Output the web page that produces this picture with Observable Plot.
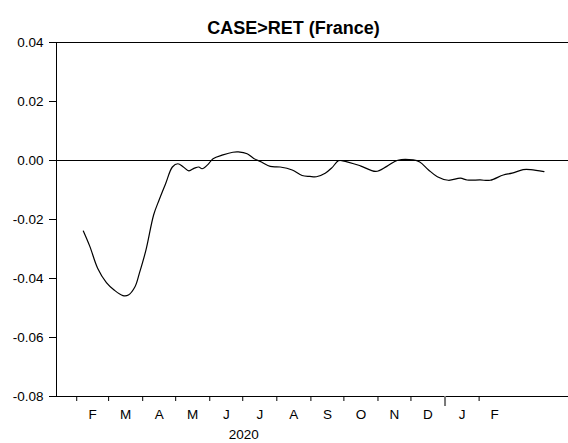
<!DOCTYPE html>
<html>
<head>
<meta charset="utf-8">
<script src="https://cdn.jsdelivr.net/npm/d3@7"></script>
<script src="https://cdn.jsdelivr.net/npm/@observablehq/plot@0.6"></script>
<style>
  html, body { margin: 0; padding: 0; background: white; }
</style>
</head>
<body>
<div id="chart"></div>
<script>
// ---- Data ----
const title = "CASE>RET (France)";
const dates = [
  "2020-02-07","2020-02-13","2020-02-20","2020-02-28","2020-03-06","2020-03-14",
  "2020-03-19","2020-03-25","2020-03-29","2020-04-04","2020-04-11","2020-04-16",
  "2020-04-22","2020-04-28","2020-05-03","2020-05-08","2020-05-13","2020-05-18",
  "2020-05-22","2020-05-25","2020-05-30","2020-06-04","2020-06-13","2020-06-22",
  "2020-06-27","2020-07-05","2020-07-11","2020-07-18","2020-07-26","2020-08-04",
  "2020-08-15","2020-08-24","2020-08-31","2020-09-06","2020-09-14","2020-09-20",
  "2020-09-26","2020-09-30","2020-10-16","2020-10-30","2020-11-09","2020-11-19",
  "2020-12-03","2020-12-09","2020-12-17","2020-12-25","2021-01-04","2021-01-15",
  "2021-01-21","2021-02-02","2021-02-11","2021-02-23","2021-03-03","2021-03-13",
  "2021-03-20","2021-04-01"
];
const values = [
  -0.0239,-0.0292,-0.0365,-0.0414,-0.0439,-0.0458,
  -0.0456,-0.0428,-0.0382,-0.0303,-0.0184,-0.0133,
  -0.0077,-0.0022,-0.0011,-0.0022,-0.0035,-0.0026,
  -0.0022,-0.0028,-0.0015,0.0006,0.0019,0.0028,
  0.0029,0.0023,0.0007,-0.0005,-0.0020,-0.0022,
  -0.0032,-0.0051,-0.0054,-0.0055,-0.0043,-0.0025,
  -0.0001,-0.0001,-0.0018,-0.0037,-0.0020,0.0001,
  0.0002,-0.0005,-0.0032,-0.0055,-0.0067,-0.0060,
  -0.0066,-0.0066,-0.0067,-0.0049,-0.0043,-0.0031,
  -0.0031,-0.0038
];
const yTicks = [-0.08, -0.06, -0.04, -0.02, 0.00, 0.02, 0.04];
const monthStarts = [
  "2020-02-01","2020-03-01","2020-04-01","2020-05-01","2020-06-01","2020-07-01",
  "2020-08-01","2020-09-01","2020-10-01","2020-11-01","2020-12-01","2021-01-01","2021-02-01"
];
const monthLabels = ["F","M","A","M","J","J","A","S","O","N","D","J","F"];
const yearBoundary = "2021-01-01";
const yearLabel = "2020";
const yearStart = "2020-01-01";

// ---- Build ----
const data = dates.map((d, i) => ({date: new Date(d), value: values[i]}));
const starts = monthStarts.map(d => new Date(d));
const mids = starts.map(d => new Date((+d + +d3.utcMonth.offset(d, 1)) / 2));
const labelOf = new Map(mids.map((d, i) => [+d, monthLabels[i]]));
const yearMid = new Date((+new Date(yearStart) + +new Date(yearBoundary)) / 2);

const DAY = 864e5;
const xDomain = [new Date(+new Date("2020-02-01") - 18.4 * DAY),
                 new Date(+new Date("2021-02-01") + 81.3 * DAY)];

const font = "'Liberation Sans', Arial, Helvetica, sans-serif";

const chart = Plot.plot({
  width: 568,
  height: 443,
  marginLeft: 56,
  marginRight: 0,
  marginTop: 42,
  marginBottom: 47,
  style: {fontFamily: font, fontSize: "13.5px", background: "white", color: "black"},
  x: {type: "utc", domain: xDomain},
  y: {domain: [-0.08, 0.04]},
  marks: [
    Plot.ruleY([0], {stroke: "black", strokeWidth: 1}),
    Plot.ruleY([0.04, -0.08], {stroke: "black", strokeWidth: 1}),
    Plot.ruleX([xDomain[0]], {stroke: "black", strokeWidth: 1}),
    Plot.line(data, {x: "date", y: "value", curve: "catmull-rom", stroke: "black", strokeWidth: 1.2}),
    Plot.axisY({ticks: yTicks, tickSize: 7, tickPadding: 6, tickFormat: d => d.toFixed(2), label: null, fontSize: 13.5}),
    Plot.axisX({ticks: starts, tickSize: 5, tickFormat: () => "", label: null}),
    Plot.axisX({ticks: [new Date(yearBoundary)], tickSize: 10, tickFormat: () => "", label: null, stroke: "#777", strokeWidth: 2}),
    Plot.axisX({ticks: mids, tickSize: 0, tickPadding: 13, tickFormat: d => labelOf.get(+d), label: null, fontSize: 13.5}),
    Plot.axisX({ticks: [yearMid], tickSize: 0, tickPadding: 33, tickFormat: () => yearLabel, label: null, fontSize: 13.5}),
    Plot.text([title], {frameAnchor: "top", dy: -21, dx: -19, fontWeight: "bold", fontSize: 18, fill: "black"})
  ]
});
document.getElementById("chart").appendChild(chart);
</script>
</body>
</html>
